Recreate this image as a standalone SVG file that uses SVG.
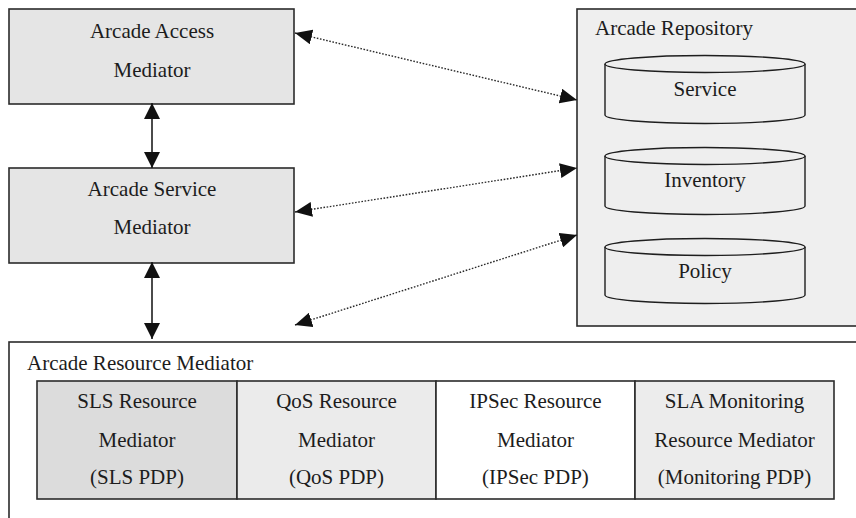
<svg xmlns="http://www.w3.org/2000/svg" width="856" height="518" viewBox="0 0 856 518">
  <style>
    .box { stroke: #2b2b2b; stroke-width: 1.6; }
    .med { fill: #e5e5e5; }
    .repo { fill: #efefef; }
    .cyl { fill: #eeeeee; stroke: #1e1e1e; stroke-width: 1.4; }
    text { font-family: 'Liberation Serif', 'Times New Roman', 'DejaVu Serif', serif; font-size: 21px; fill: #1c1c1c; }
    .c { text-anchor: middle; }
    .solid { stroke: #1e1e1e; stroke-width: 1.6; fill: none; }
    .dot { stroke: #2a2a2a; stroke-width: 1.4; stroke-dasharray: 1.6 1.6; fill: none; }
  </style>
  <defs>
    <marker id="head" viewBox="0 0 16 16" refX="16" refY="8" markerWidth="16" markerHeight="16" markerUnits="userSpaceOnUse" orient="auto-start-reverse">
      <path d="M0,0 L16,8 L0,16 Z" fill="#111"/>
    </marker>
    <marker id="headD" viewBox="0 0 17 15" refX="17" refY="7.5" markerWidth="17" markerHeight="15" markerUnits="userSpaceOnUse" orient="auto-start-reverse">
      <path d="M0,0 L17,7.5 L0,15 Z" fill="#111"/>
    </marker>
  </defs>

  <g id="access-mediator">
    <rect class="box med" x="9" y="9" width="285" height="95"/>
    <text class="c" x="152" y="38">Arcade Access</text>
    <text class="c" x="152" y="77">Mediator</text>
  </g>

  <g id="service-mediator">
    <rect class="box med" x="9" y="168" width="285" height="95"/>
    <text class="c" x="152" y="196">Arcade Service</text>
    <text class="c" x="152" y="234">Mediator</text>
  </g>

  <g id="repository">
    <rect class="box repo" x="577" y="9" width="300" height="317"/>
    <text x="595" y="35">Arcade Repository</text>
    <g id="db-service">
      <path class="cyl" d="M605,64 V115 A100,8.5 0 0 0 805,115 V64"/>
      <ellipse class="cyl" cx="705" cy="64" rx="100" ry="8.5"/>
      <text class="c" x="705" y="96">Service</text>
    </g>
    <g id="db-inventory">
      <path class="cyl" d="M605,156 V206 A100,8.5 0 0 0 805,206 V156"/>
      <ellipse class="cyl" cx="705" cy="156" rx="100" ry="8.5"/>
      <text class="c" x="705" y="187">Inventory</text>
    </g>
    <g id="db-policy">
      <path class="cyl" d="M605,247 V295 A100,8.5 0 0 0 805,295 V247"/>
      <ellipse class="cyl" cx="705" cy="247" rx="100" ry="8.5"/>
      <text class="c" x="705" y="278">Policy</text>
    </g>
  </g>

  <g id="resource-mediator">
    <rect class="box" fill="#ffffff" x="9" y="342" width="870" height="200"/>
    <text x="27" y="370">Arcade Resource Mediator</text>
    <g id="sls-rm">
      <rect class="box" fill="#dcdcdc" x="37" y="381" width="200" height="118"/>
      <text class="c" x="137" y="408">SLS Resource</text>
      <text class="c" x="137" y="447">Mediator</text>
      <text class="c" x="137" y="484">(SLS PDP)</text>
    </g>
    <g id="qos-rm">
      <rect class="box" fill="#ebebeb" x="237" y="381" width="199" height="118"/>
      <text class="c" x="336.5" y="408">QoS Resource</text>
      <text class="c" x="336.5" y="447">Mediator</text>
      <text class="c" x="336.5" y="484">(QoS PDP)</text>
    </g>
    <g id="ipsec-rm">
      <rect class="box" fill="#ffffff" x="436" y="381" width="199" height="118"/>
      <text class="c" x="535.5" y="408">IPSec Resource</text>
      <text class="c" x="535.5" y="447">Mediator</text>
      <text class="c" x="535.5" y="484">(IPSec PDP)</text>
    </g>
    <g id="sla-rm">
      <rect class="box" fill="#ececec" x="635" y="381" width="199" height="118"/>
      <text class="c" x="734.5" y="408">SLA Monitoring</text>
      <text class="c" x="734.5" y="447">Resource Mediator</text>
      <text class="c" x="734.5" y="484">(Monitoring PDP)</text>
    </g>
  </g>

  <g id="connectors">
    <line class="solid" x1="152" y1="103" x2="152" y2="168" marker-start="url(#head)" marker-end="url(#head)"/>
    <line class="solid" x1="152" y1="262" x2="152" y2="339" marker-start="url(#head)" marker-end="url(#head)"/>
    <line class="dot" x1="295" y1="33" x2="577" y2="100" marker-start="url(#headD)" marker-end="url(#headD)"/>
    <line class="dot" x1="295" y1="212" x2="577" y2="168" marker-start="url(#headD)" marker-end="url(#headD)"/>
    <line class="dot" x1="295" y1="325" x2="577" y2="235" marker-start="url(#headD)" marker-end="url(#headD)"/>
  </g>
</svg>
